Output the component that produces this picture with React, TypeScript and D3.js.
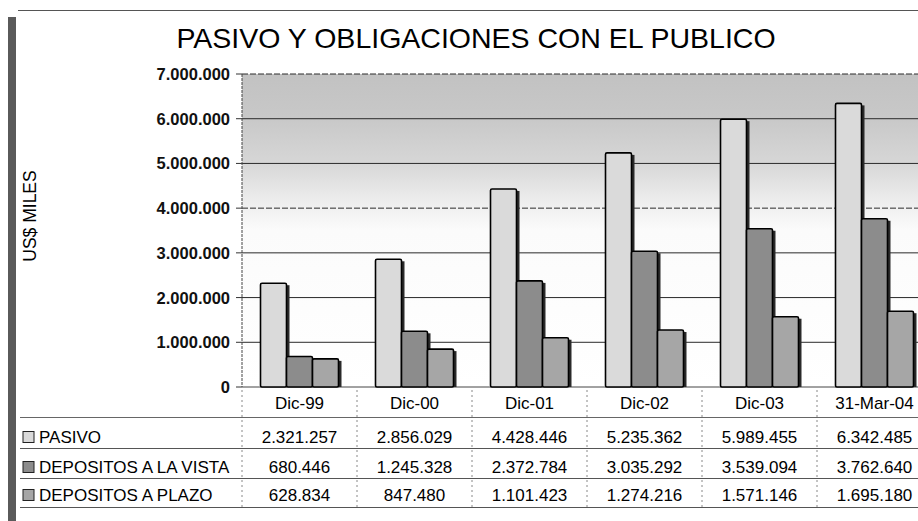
import React from "react";
import * as d3 from "d3";

const categories = ["Dic-99", "Dic-00", "Dic-01", "Dic-02", "Dic-03", "31-Mar-04"];
const seriesNames = ["PASIVO", "DEPOSITOS A LA VISTA", "DEPOSITOS A PLAZO"];
const pasivo = [2321257, 2856029, 4428446, 5235362, 5989455, 6342485];
const vista = [680446, 1245328, 2372784, 3035292, 3539094, 3762640];
const plazo = [628834, 847480, 1101423, 1274216, 1571146, 1695180];
const yTicks = [0, 1000000, 2000000, 3000000, 4000000, 5000000, 6000000, 7000000];
const title = "PASIVO Y OBLIGACIONES CON EL PUBLICO";
const yTitle = "US$ MILES";

const seriesValues = [pasivo, vista, plazo];
const seriesFill = ["#dadada", "#8c8c8c", "#a6a6a6"];

const W = 918;
const H = 521;
const FONT = "'Liberation Sans', Arial, sans-serif";

const fmt = (v: number) => d3.format(",")(v).replace(/,/g, ".");

export default function App() {
  const plotLeft = 242;
  const plotTop = 74;
  const plotBottom = 387;
  const bandW = 115;
  const x0 = d3
    .scaleBand<string>()
    .domain(categories)
    .range([plotLeft, plotLeft + bandW * categories.length])
    .paddingInner(0)
    .paddingOuter(0);
  const x1 = d3.scaleBand<string>().domain(seriesNames).range([18.5, 96.5]);
  const y = d3.scaleLinear().domain([0, 7000000]).range([plotBottom, plotTop]);

  const headerBottom = 417;
  const rowLines = [417, 448, 478, 507];
  const rowCenters = [437, 467, 495];

  return (
    <svg
      width={W}
      height={H}
      style={{ position: "absolute", left: 0, top: 0, background: "#fff" }}
      fontFamily={FONT}
    >
      <defs>
        <linearGradient id="bg" x1="0" y1="0" x2="0" y2="1">
          <stop offset="0%" stopColor="#c2c2c2" />
          <stop offset="14%" stopColor="#c8c8c8" />
          <stop offset="28%" stopColor="#d6d6d6" />
          <stop offset="40%" stopColor="#ececec" />
          <stop offset="50%" stopColor="#fbfbfb" />
          <stop offset="100%" stopColor="#ffffff" />
        </linearGradient>
      </defs>
      <rect x={0} y={0} width={W} height={H} fill="#fff" />
      {/* frame */}
      <line x1={18} x2={W} y1={10.5} y2={10.5} stroke="#555" strokeWidth={1} />
      <rect x={8} y={17} width={8} height={H - 17} fill="#5a5a5a" />

      {/* title */}
      <text x={476} y={48} textAnchor="middle" fontSize={28.5} fill="#000">
        {title}
      </text>

      {/* y title */}
      <text
        transform={`translate(36, 216) rotate(-90)`}
        textAnchor="middle"
        fontSize={17.5}
        fill="#000"
      >
        {yTitle}
      </text>

      {/* plot background */}
      <rect
        x={plotLeft}
        y={plotTop}
        width={W - plotLeft}
        height={plotBottom - plotTop}
        fill="url(#bg)"
      />

      {/* gridlines */}
      {yTicks.map((t) => (
        <g key={t}>
          <line
            x1={plotLeft}
            x2={W}
            y1={y(t)}
            y2={y(t)}
            stroke={t === 0 ? "#444" : "#2a2a2a"}
            strokeWidth={1}
            strokeDasharray={t === 4000000 || t === 7000000 ? "6 2" : undefined}
          />
          <line x1={plotLeft - 6} x2={plotLeft} y1={y(t)} y2={y(t)} stroke="#333" />
          <text
            x={230}
            y={y(t)}
            dy="0.36em"
            textAnchor="end"
            fontSize={16.5}
            fontWeight="bold"
            fill="#111"
          >
            {fmt(t)}
          </text>
        </g>
      ))}

      {/* bars */}
      {categories.map((c, ci) => (
        <g key={c} transform={`translate(${x0(c)},0)`}>
          {seriesNames.map((s, si) => {
            const v = seriesValues[si][ci];
            const bx = x1(s) as number;
            const bw = x1.bandwidth();
            const top = y(v);
            return (
              <g key={s}>
                <rect
                  x={bx + 3}
                  y={top + 2}
                  width={bw}
                  height={plotBottom - top - 2}
                  fill="#2a2a2a"
                />
                <rect
                  x={bx}
                  y={top}
                  width={bw}
                  height={plotBottom - top}
                  fill={seriesFill[si]}
                  stroke="#000"
                  strokeWidth={1.6}
                  rx={1.5}
                />
              </g>
            );
          })}
        </g>
      ))}

      {/* y axis line */}
      <line x1={plotLeft} x2={plotLeft} y1={plotTop} y2={plotBottom} stroke="#444" strokeDasharray="3 1" />

      {/* category labels and table column separators */}
      {categories.map((c, ci) => (
        <g key={c}>
          <text
            x={(x0(c) as number) + bandW / 2}
            y={403}
            dy="0.36em"
            textAnchor="middle"
            fontSize={17}
            fill="#000"
          >
            {c}
          </text>
          <line
            x1={x0(c) as number}
            x2={x0(c) as number}
            y1={plotBottom + 3}
            y2={507}
            stroke="#888"
            strokeDasharray="2 3"
          />
          {seriesNames.map((s, si) => (
            <text
              key={s}
              x={(x0(c) as number) + bandW / 2}
              y={rowCenters[si]}
              dy="0.36em"
              textAnchor="middle"
              fontSize={17}
              fill="#000"
            >
              {fmt(seriesValues[si][ci])}
            </text>
          ))}
        </g>
      ))}

      {/* table lines */}
      {rowLines.map((ly, i) => (
        <line
          key={ly}
          x1={20}
          x2={W}
          y1={ly + 0.5}
          y2={ly + 0.5}
          stroke={i === 0 ? "#666" : "#555"}
          strokeWidth={1}
        />
      ))}

      {/* legend in table */}
      {seriesNames.map((s, si) => (
        <g key={s}>
          <rect
            x={23}
            y={rowCenters[si] - 5.5}
            width={11}
            height={11}
            fill={seriesFill[si]}
            stroke="#222"
            strokeWidth={1}
          />
          <text x={39} y={rowCenters[si]} dy="0.36em" fontSize={17} fill="#000">
            {s}
          </text>
        </g>
      ))}
      {headerBottom ? null : null}
    </svg>
  );
}
